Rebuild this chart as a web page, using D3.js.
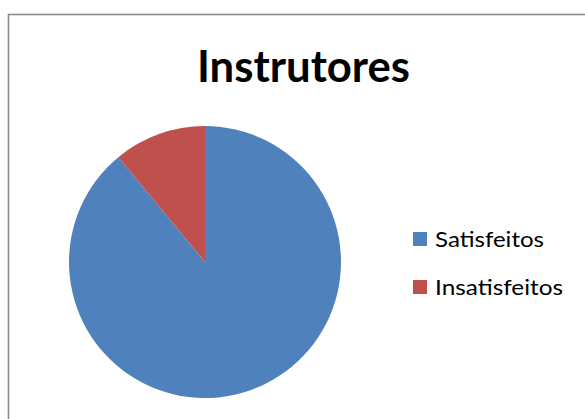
<!DOCTYPE html>
<html><head><meta charset="utf-8">
<script src="https://cdn.jsdelivr.net/npm/d3@7"></script>
<style>html,body{margin:0;padding:0;background:#fff;}svg{display:block;}</style>
</head><body>
<svg id="c" width="585" height="419"></svg>
<script>
const title = "Instrutores";
const categories = ["Satisfeitos", "Insatisfeitos"];
const values = [89, 11];
const colors = ["#4F81BD", "#C0504D"];

const svg = d3.select("#c");
svg.append("rect").attr("x", 8.5).attr("y", 14.5).attr("width", 600).attr("height", 420)
  .attr("fill", "#fff").attr("stroke", "#8c8c8c").attr("stroke-width", 1.6);

svg.append("text").attr("x", 303.5).attr("y", 81.5).attr("text-anchor", "middle")
  .attr("font-family", "Lato, 'Open Sans', sans-serif").attr("font-weight", "bold").attr("font-size", 43)
  .attr("textLength", 213).attr("lengthAdjust", "spacingAndGlyphs")
  .attr("fill", "#000").text(title);

const data = categories.map((c, i) => ({c, v: values[i], col: colors[i]}));
const pie = d3.pie().value(d => d.v).sort(null);
const arc = d3.arc().innerRadius(0).outerRadius(136);
const g = svg.append("g").attr("transform", "translate(205,262)");
g.selectAll("path").data(pie(data)).join("path").attr("d", arc).attr("fill", d => d.data.col);

const lx = d3.scaleOrdinal().domain(categories).range([232, 280]);
const widths = [109, 128];
const lg = svg.append("g");
data.forEach((d, i) => {
  const y = lx(d.c);
  lg.append("rect").attr("x", 413).attr("y", y).attr("width", 14).attr("height", 14).attr("fill", d.col);
  lg.append("text").attr("x", 435).attr("y", y + 14.5)
    .attr("font-family", "Lato, 'Open Sans', sans-serif").attr("font-size", 21)
    .attr("textLength", widths[i]).attr("lengthAdjust", "spacingAndGlyphs")
    .attr("fill", "#000").text(d.c);
});
</script>
</body></html>
